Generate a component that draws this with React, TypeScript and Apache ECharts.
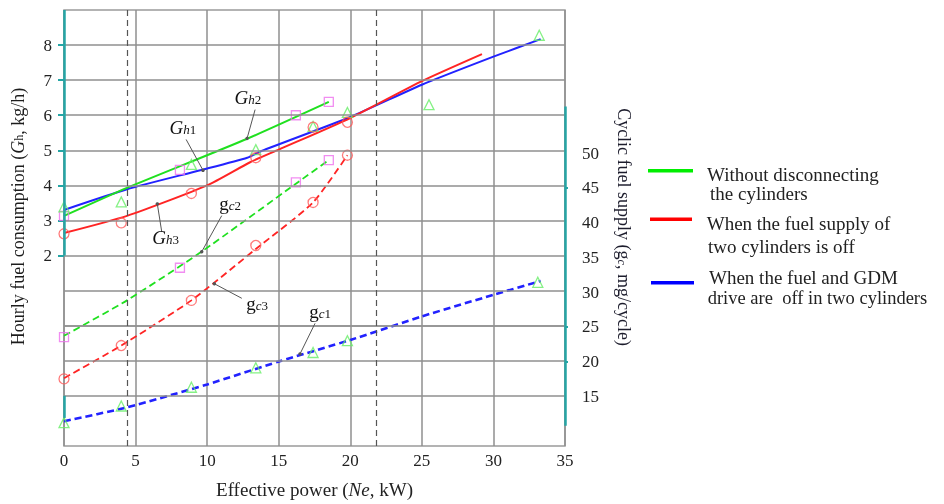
import React, { useEffect, useRef } from 'react';
import * as echarts from 'echarts';

// ---------- data ----------
// Hourly fuel consumption curves (left axis, kg/h)
const GH1_NE = [0, 4.4, 9.6, 12.8, 13.8, 20, 25, 30, 33.3];
const GH1 = [3.3, 3.89, 4.44, 4.79, 4.98, 5.95, 6.87, 7.67, 8.17];
const GH2_NE = [0, 4.4, 12.8, 18.5];
const GH2 = [3.13, 3.93, 5.33, 6.38];
const GH3_NE = [0, 4.4, 10, 13, 15, 20, 25, 29.2];
const GH3 = [2.64, 3.13, 4.0, 4.66, 5.02, 5.92, 6.97, 7.74];

// Cyclic fuel supply curves (right axis, mg/cycle)
const GC1_NE = [0, 4.4, 10, 15, 20, 25, 30, 33.3];
const GC1 = [11.4, 13.4, 16.7, 20.0, 23.1, 26.5, 29.6, 31.6];
const GC2_NE = [0, 4.4, 9.6, 16.2, 18.5];
const GC2 = [23.7, 28.8, 35.8, 45.6, 49.0];
const GC3_NE = [0, 4.0, 8.9, 13.4, 17.4, 19.8];
const GC3 = [17.6, 22.3, 28.8, 36.2, 42.9, 49.7];

// Experimental points
const SQ_GH_NE = [0, 8.1, 16.2, 18.5];
const SQ_GH = [3.13, 4.44, 6.0, 6.38];
const TRI_GH_NE = [0, 4.0, 8.9, 13.4, 17.4, 19.8, 25.5, 33.2];
const TRI_GH = [3.39, 3.53, 4.6, 5.02, 5.68, 6.08, 6.3, 8.28];
const CIR_GH_NE = [0, 4.0, 8.9, 13.4, 17.4, 19.8];
const CIR_GH = [2.62, 2.93, 3.77, 4.79, 5.66, 5.8];
const SQ_GC_NE = [0, 8.1, 16.2, 18.5];
const SQ_GC = [23.5, 33.5, 45.8, 49.0];
const CIR_GC_NE = [0, 4.0, 8.9, 13.4, 17.4, 19.8];
const CIR_GC = [17.5, 22.3, 28.8, 36.7, 42.9, 49.7];
const TRI_GC_NE = [0, 4.0, 8.9, 13.4, 17.4, 19.8, 33.1];
const TRI_GC = [11.2, 13.6, 16.3, 19.1, 21.3, 23.0, 31.4];

// Axes
const X_MIN = 0;
const X_MAX = 35;
const X_STEP = 5;
const LEFT_MIN = -3.43;
const LEFT_MAX = 9;
const RIGHT_MIN = 7.84;
const RIGHT_MAX = 70.6;
const LEFT_TICKS = [2, 3, 4, 5, 6, 7, 8];
const RIGHT_TICKS = [15, 20, 25, 30, 35, 40, 45, 50];
const RIGHT_TICK_MARKS = [20, 25, 45];
const GRID_ROWS = [-2, -1, 0, 1, 2, 3, 4, 5, 6, 7, 8];
const REF_NE = [4.42, 21.8];

// Curve annotations
const ANN_GH = [
  { main: 'G', sub: 'h', num: '2', pos: [12.85, 6.44], from: [13.35, 6.16], to: [12.79, 5.34] },
  { main: 'G', sub: 'h', num: '1', pos: [8.3, 5.59], from: [8.53, 5.31], to: [9.71, 4.43] },
  { main: 'G', sub: 'h', num: '3', pos: [7.1, 2.47], from: [6.83, 2.67], to: [6.52, 3.47] },
];
const ANN_GC = [
  { main: 'g', sub: 'c', num: '2', pos: [11.6, 42.5], from: [11.02, 41.0], to: [9.62, 35.8] },
  { main: 'g', sub: 'c', num: '3', pos: [13.5, 28.1], from: [12.42, 29.1], to: [10.5, 31.2] },
  { main: 'g', sub: 'c', num: '1', pos: [17.9, 26.9], from: [17.54, 25.5], to: [16.49, 21.1] },
];

const FONT = '"Liberation Serif", "Times New Roman", serif';
const TEAL = '#25a5a5';
const GRID_C = '#8f8f8f';
const TXT = '#222';
const GREEN = '#1fe01f';
const RED = '#ff2424';
const BLUE = '#2222ff';

const pairs = (xs: number[], ys: number[]) => xs.map((x, i) => [x, ys[i]]);

const subRich = {
  m: { fontSize: 19, fontStyle: 'italic', fontFamily: FONT, color: '#111', padding: [0, 0, 4, 0] },
  mr: { fontSize: 19, fontFamily: FONT, color: '#111', padding: [0, 0, 4, 0] },
  s: { fontSize: 13, fontStyle: 'italic', fontFamily: FONT, color: '#111' },
  d: { fontSize: 13, fontFamily: FONT, color: '#111' },
};

export default function App() {
  const ref = useRef<HTMLDivElement>(null);
  useEffect(() => {
    if (!ref.current) return;
    const chart = echarts.init(ref.current, undefined, { renderer: 'svg' });

    const lineSeries = (xs: number[], ys: number[], color: string, axis: number, dashed: boolean, width = 2) => ({
      type: 'line',
      yAxisIndex: axis,
      data: pairs(xs, ys),
      showSymbol: false,
      symbol: 'none',
      smooth: 0.2,
      silent: true,
      z: 3,
      lineStyle: { color, width, type: dashed ? [7, 4] : 'solid' },
    });

    const markerSeries = (xs: number[], ys: number[], axis: number, symbol: string, size: number, color: string) => ({
      type: 'scatter',
      yAxisIndex: axis,
      data: pairs(xs, ys),
      symbol,
      symbolSize: size,
      silent: true,
      z: 4,
      itemStyle: { color: 'rgba(0,0,0,0)', borderColor: color, borderWidth: 1.3 },
    });

    const annMarkPoints = (list: any[]) =>
      list.map((a) => ({
        coord: a.pos,
        symbol: 'circle',
        symbolSize: 1,
        itemStyle: { color: 'rgba(0,0,0,0)' },
        label: {
          show: true,
          position: 'inside',
          formatter: `{${a.main === 'G' ? 'm' : 'mr'}|${a.main}}{s|${a.sub}}{d|${a.num}}`,
          rich: subRich,
        },
      }));
    const annLines = (list: any[]) => list.map((a) => [{ coord: a.from }, { coord: a.to }]);

    const legendText = (text: string, x: number, y: number, size = 19) => ({
      type: 'text',
      x,
      y,
      style: { text, fontSize: size, fontFamily: FONT, fill: TXT, verticalAlign: 'middle' },
    });

    const option: any = {
      animation: false,
      textStyle: { fontFamily: FONT },
      grid: {
        left: 64,
        right: 379,
        top: 10,
        bottom: 55.7,
        show: true,
        borderColor: '#9a9a9a',
        borderWidth: 1.5,
        backgroundColor: 'rgba(0,0,0,0)',
      },
      xAxis: {
        type: 'value',
        min: X_MIN,
        max: X_MAX,
        interval: X_STEP,
        axisLine: { show: true, lineStyle: { color: '#9a9a9a', width: 1.5 } },
        axisTick: { show: false },
        splitLine: { show: true, lineStyle: { color: GRID_C, width: 1.5 } },
        axisLabel: { fontSize: 17, color: TXT, margin: 6, fontFamily: FONT },
        name: '{n|Effective power (}{i|Ne}{n|, kW)}',
        nameLocation: 'middle',
        nameGap: 34,
        nameTextStyle: {
          rich: {
            n: { fontSize: 19, fontFamily: FONT, color: TXT },
            i: { fontSize: 19, fontFamily: FONT, fontStyle: 'italic', color: TXT },
          },
        },
      },
      yAxis: [
        {
          type: 'value',
          position: 'left',
          min: LEFT_MIN,
          max: LEFT_MAX,
          axisLine: { show: false },
          splitLine: { show: false },
          axisTick: { show: true, customValues: LEFT_TICKS, length: 6, lineStyle: { color: TEAL, width: 2 } },
          axisLabel: { customValues: LEFT_TICKS, fontSize: 17, color: TXT, margin: 12, fontFamily: FONT },
        },
        {
          type: 'value',
          position: 'right',
          min: RIGHT_MIN,
          max: RIGHT_MAX,
          axisLine: { show: false },
          splitLine: { show: false },
          axisTick: { show: true, customValues: RIGHT_TICK_MARKS, inside: false, length: 3, lineStyle: { color: TEAL, width: 2 } },
          axisLabel: { customValues: RIGHT_TICKS, fontSize: 17, color: TXT, margin: 17, fontFamily: FONT },
        },
      ],
      series: [
        {
          type: 'line',
          yAxisIndex: 0,
          data: [],
          silent: true,
          z: 1,
          markLine: {
            silent: true,
            symbol: 'none',
            label: { show: false },
            animation: false,
            data: [
              ...GRID_ROWS.map((v) => ({ yAxis: v, lineStyle: { color: GRID_C, width: 1.5, type: 'solid' } })),
              ...REF_NE.map((v) => ({ xAxis: v, lineStyle: { color: '#555', width: 1.2, type: [6, 4] } })),
              [
                { coord: [X_MIN, LEFT_MAX], lineStyle: { color: TEAL, width: 2.5, type: 'solid' } },
                { coord: [X_MIN, 2] },
              ],
              [
                { coord: [X_MIN, -2], lineStyle: { color: TEAL, width: 2.5, type: 'solid' } },
                { coord: [X_MIN, -2.63] },
              ],
            ],
          },
        },
        {
          type: 'line',
          yAxisIndex: 1,
          data: [],
          silent: true,
          z: 1,
          markLine: {
            silent: true,
            symbol: 'none',
            label: { show: false },
            animation: false,
            data: [
              [
                { coord: [X_MAX, 56.7], lineStyle: { color: TEAL, width: 2.5, type: 'solid' } },
                { coord: [X_MAX, 10.75] },
              ],
            ],
          },
        },
        lineSeries(GH1_NE, GH1, BLUE, 0, false),
        lineSeries(GH2_NE, GH2, GREEN, 0, false),
        lineSeries(GH3_NE, GH3, RED, 0, false),
        lineSeries(GC1_NE, GC1, BLUE, 1, true, 2.6),
        lineSeries(GC2_NE, GC2, GREEN, 1, true, 1.8),
        lineSeries(GC3_NE, GC3, RED, 1, true, 1.8),
        markerSeries(SQ_GH_NE, SQ_GH, 0, 'rect', 9, '#ee70ee'),
        markerSeries(TRI_GH_NE, TRI_GH, 0, 'triangle', 10, '#66ee66'),
        markerSeries(CIR_GH_NE, CIR_GH, 0, 'circle', 10, '#ff5a5a'),
        markerSeries(SQ_GC_NE, SQ_GC, 1, 'rect', 9, '#ee70ee'),
        markerSeries(CIR_GC_NE, CIR_GC, 1, 'circle', 10, '#ff5a5a'),
        markerSeries(TRI_GC_NE, TRI_GC, 1, 'triangle', 10, '#66ee66'),
        {
          type: 'line',
          yAxisIndex: 0,
          data: [],
          silent: true,
          z: 5,
          markLine: {
            silent: true,
            symbol: ['none', 'circle'],
            symbolSize: 3.5,
            label: { show: false },
            lineStyle: { color: '#555', width: 1, type: 'solid' },
            itemStyle: { color: '#222' },
            data: annLines(ANN_GH),
          },
          markPoint: { silent: true, data: annMarkPoints(ANN_GH) },
        },
        {
          type: 'line',
          yAxisIndex: 1,
          data: [],
          silent: true,
          z: 5,
          markLine: {
            silent: true,
            symbol: ['none', 'circle'],
            symbolSize: 3.5,
            label: { show: false },
            lineStyle: { color: '#555', width: 1, type: 'solid' },
            itemStyle: { color: '#222' },
            data: annLines(ANN_GC),
          },
          markPoint: { silent: true, data: annMarkPoints(ANN_GC) },
        },
      ],
      graphic: [
        {
          type: 'text',
          x: 19,
          y: 216.5,
          rotation: Math.PI / 2,
          style: {
            text: '{n|Hourly fuel consumption (}{i|G}{s|h}{n|, kg/h)}',
            align: 'center',
            verticalAlign: 'middle',
            rich: {
              n: { fontSize: 18, fontFamily: FONT, fill: '#1c1c1c', padding: [0, 0, 3, 0] },
              i: { fontSize: 18, fontFamily: FONT, fontStyle: 'italic', fill: '#1c1c1c', padding: [0, 0, 3, 0] },
              s: { fontSize: 12, fontFamily: FONT, fill: '#1c1c1c' },
            },
          },
        },
        {
          type: 'text',
          x: 622,
          y: 227,
          rotation: -Math.PI / 2,
          style: {
            text: '{n|Cyclic fuel supply (}{i|g}{s|c}{n|, mg/cycle)}',
            align: 'center',
            verticalAlign: 'middle',
            rich: {
              n: { fontSize: 18, fontFamily: FONT, fill: '#1c1c2c', padding: [0, 0, 3, 0] },
              i: { fontSize: 18, fontFamily: FONT, fill: '#1c1c2c', padding: [0, 0, 3, 0] },
              s: { fontSize: 12, fontFamily: FONT, fontStyle: 'italic', fill: '#1c1c2c' },
            },
          },
        },
        // legend
        { type: 'line', shape: { x1: 648, y1: 170.7, x2: 693, y2: 170.7 }, style: { stroke: '#00ee00', lineWidth: 3.5 } },
        legendText('Without disconnecting', 707, 174),
        legendText('the cylinders', 710, 193.5),
        { type: 'line', shape: { x1: 650, y1: 219.3, x2: 692, y2: 219.3 }, style: { stroke: '#ff0000', lineWidth: 3.5 } },
        legendText('When the fuel supply of', 706.7, 223.3),
        legendText('two cylinders is off', 708, 246.7),
        { type: 'line', shape: { x1: 651, y1: 282.7, x2: 694, y2: 282.7 }, style: { stroke: '#0000ff', lineWidth: 3.5 } },
        legendText('When the fuel and GDM', 709, 277.5),
        legendText('drive are  off in two cylinders', 707.7, 298.3, 18.5),
      ],
    };

    chart.setOption(option);
    return () => chart.dispose();
  }, []);

  return <div ref={ref} style={{ position: 'fixed', left: 0, top: 0, width: 944, height: 504 }} />;
}
